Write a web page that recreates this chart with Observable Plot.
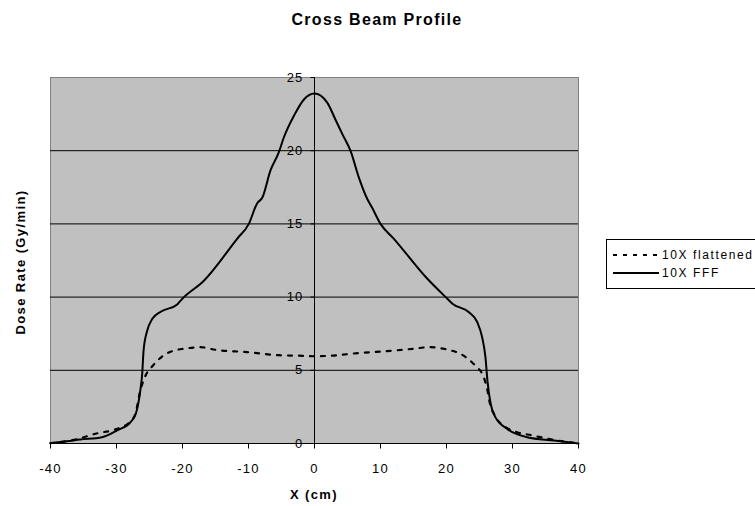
<!DOCTYPE html>
<html>
<head>
<meta charset="utf-8">
<script src="https://cdn.jsdelivr.net/npm/d3@7"></script>
<script src="https://cdn.jsdelivr.net/npm/@observablehq/plot@0.6"></script>
<style>
  html, body { margin: 0; padding: 0; background: #fff; overflow: hidden; }
  #wrap { position: relative; width: 755px; height: 506px; font-family: "Liberation Sans", Arial, sans-serif; }
  #title { position: absolute; left: 377px; top: 20px; transform: translate(-50%, -50%); font-weight: bold; font-size: 16px; letter-spacing: 1.3px; white-space: nowrap; }
  #ylab { position: absolute; left: 20px; top: 262px; transform: translate(-50%, -50%) rotate(-90deg); font-weight: bold; font-size: 13px; letter-spacing: 1.4px; white-space: nowrap; }
  #xlab { position: absolute; left: 314px; top: 494px; transform: translate(-50%, -50%); font-weight: bold; font-size: 13px; letter-spacing: 1.4px; white-space: nowrap; }
  #legend { position: absolute; left: 606px; top: 239px; width: 170px; height: 48px; border: 1px solid #000; background: #fff; font-size: 12px; letter-spacing: 1.6px; }
  .row { position: absolute; left: 6px; height: 16px; display: flex; align-items: center; white-space: nowrap; }
  .row svg { margin-right: 3px; }
</style>
</head>
<body>
<div id="wrap">
  <div id="title">Cross Beam Profile</div>
  <div id="ylab">Dose Rate (Gy/min)</div>
  <div id="xlab">X (cm)</div>
  <div id="legend">
    <div class="row" style="top:7px"><svg width="46" height="6"><line x1="0" y1="3" x2="46" y2="3" stroke="#000" stroke-width="2" stroke-dasharray="4,6"/></svg><span>10X flattened</span></div>
    <div class="row" style="top:25px"><svg width="46" height="6"><line x1="0" y1="3" x2="46" y2="3" stroke="#000" stroke-width="2"/></svg><span>10X FFF</span></div>
  </div>
</div>
<script>
// Series: 10X FFF
const fffX = [-40, -37.5, -35.5, -32.2, -29.9, -27.9, -27.1, -26.4, -26.1, -25.9, -25.35, -24.6, -23.3, -20.8, -20.0, -16.8, -11.7, -9.95, -8.7, -7.9, -6.67, -5.4, -4.65, -3.1, -1.6, 0, 1.9, 3.2, 4.2, 5.45, 6.7, 8.0, 8.74, 10, 12, 17.1, 20.1, 20.9, 23.4, 24.65, 25.4, 25.9, 26.2, 26.7, 27.4, 29.2, 32.2, 36.3, 40];
const fffY = [0.02, 0.15, 0.27, 0.43, 0.9, 1.45, 2.0, 3.6, 4.8, 6.35, 7.7, 8.5, 9.0, 9.5, 9.9, 11.1, 14.0, 15.0, 16.4, 16.8, 18.65, 19.9, 20.9, 22.4, 23.5, 23.9, 23.3, 22.1, 21.15, 20.0, 18.2, 16.7, 16.1, 15.0, 14.0, 11.25, 9.9, 9.55, 8.97, 8.3, 7.26, 5.9, 4.3, 2.7, 1.8, 1.0, 0.43, 0.2, 0];
// Series: 10X flattened
const flatX = [-40, -36, -32.9, -30.4, -27.9, -27.1, -26.4, -25.6, -24.6, -23.1, -20.8, -19.8, -17.3, -15, -10.2, -5.4, -2.6, 0, 2.6, 7.2, 10, 15, 17.3, 19.6, 20.3, 22.6, 24.4, 25.4, 26.1, 26.6, 27.4, 29.2, 30.7, 33.0, 35.4, 40];
const flatY = [0.02, 0.3, 0.7, 0.93, 1.5, 2.1, 3.6, 4.64, 5.26, 5.94, 6.4, 6.47, 6.58, 6.4, 6.24, 6.03, 6.0, 5.96, 6.0, 6.2, 6.28, 6.47, 6.58, 6.47, 6.4, 6.0, 5.3, 4.76, 3.85, 2.7, 1.85, 1.05, 0.77, 0.55, 0.32, 0];
// Axis ticks
const xTicks = [-40, -30, -20, -10, 0, 10, 20, 30, 40];
const yTicks = [0, 5, 10, 15, 20, 25];
const gridY = [5, 10, 15, 20];

const fff = fffX.map((x, i) => ({x, y: fffY[i]}));
const flat = flatX.map((x, i) => ({x, y: flatY[i]}));

const tickDown = {draw(ctx) { ctx.moveTo(0, 0); ctx.lineTo(0, 5); }};
const tickLeft = {draw(ctx) { ctx.moveTo(0, 0); ctx.lineTo(-4, 0); }};

const chart = Plot.plot({
  width: 755,
  height: 506,
  marginLeft: 50,
  marginRight: 177,
  marginTop: 77,
  marginBottom: 63,
  style: {fontFamily: "'Liberation Sans', Arial, sans-serif", fontSize: "13px", background: "transparent", overflow: "visible", letterSpacing: "1.2px"},
  x: {domain: [-40, 40], axis: null},
  y: {domain: [0, 25], axis: null},
  marks: [
    Plot.frame({fill: "#c0c0c0", stroke: "#808080"}),
    Plot.ruleY(gridY, {stroke: "#000", strokeWidth: 1}),
    Plot.ruleX([0], {stroke: "#000", strokeWidth: 1}),
    Plot.ruleY([0], {stroke: "#000", strokeWidth: 1}),
    Plot.dot(xTicks, {x: d => d, y: 0, symbol: tickDown, r: 3, stroke: "#000", fill: "none", strokeWidth: 1}),
    Plot.dot(yTicks, {x: 0, y: d => d, symbol: tickLeft, r: 3, stroke: "#000", fill: "none", strokeWidth: 1}),
    Plot.text(yTicks, {x: 0, y: d => d, text: d => String(d), textAnchor: "end", dx: -11, fill: "#000", fontSize: 13}),
    Plot.text(xTicks, {x: d => d, y: 0, text: d => String(d), dy: 25, fill: "#000", fontSize: 13}),
    Plot.line(flat, {x: "x", y: "y", stroke: "#000", strokeWidth: 2.2, strokeDasharray: "4,7", curve: "monotone-x"}),
    Plot.line(fff, {x: "x", y: "y", stroke: "#000", strokeWidth: 2, curve: "monotone-x"})
  ]
});
chart.style.position = "absolute";
chart.style.left = "0px";
chart.style.top = "0px";
document.getElementById("wrap").appendChild(chart);
</script>
</body>
</html>
